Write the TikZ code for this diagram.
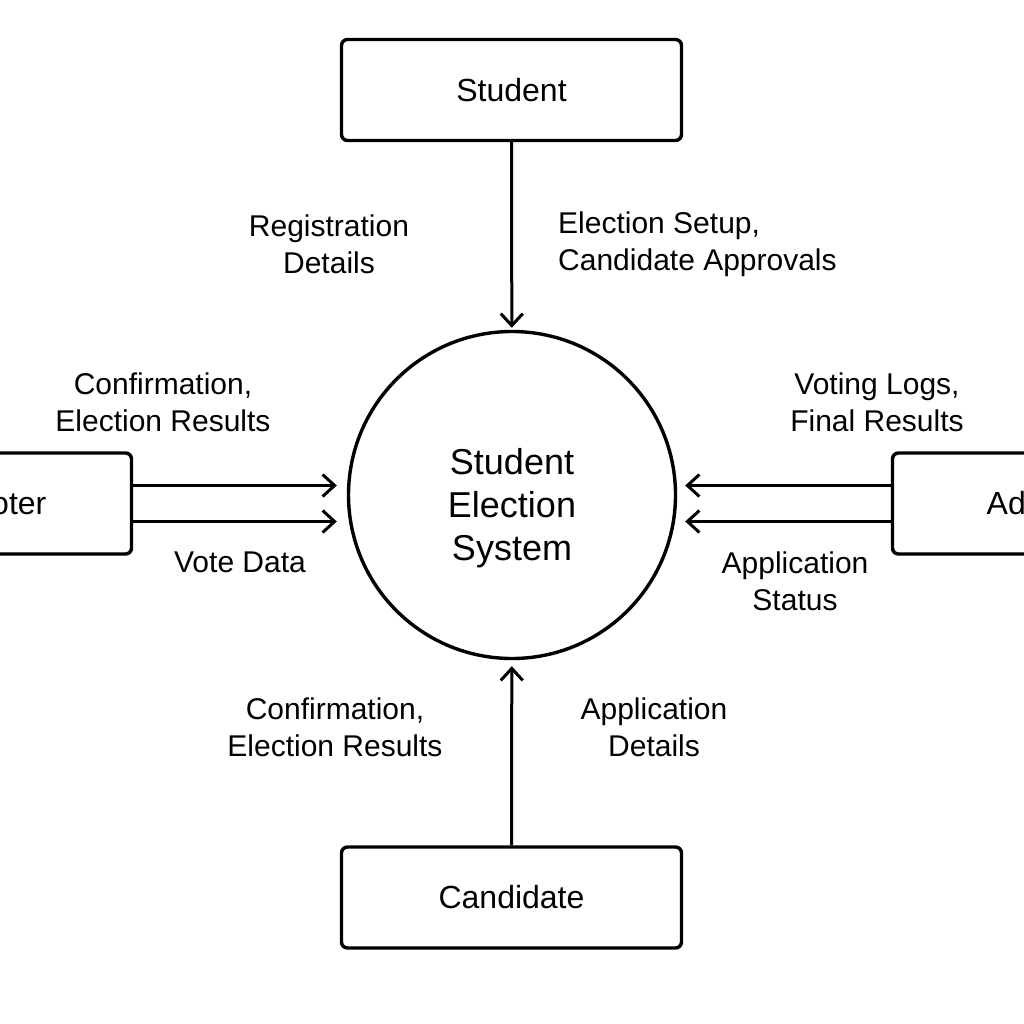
\documentclass[tikz,border=0pt]{standalone}
\usepackage{fontspec}
\setmainfont{Liberation Sans}
\usetikzlibrary{arrows.meta, positioning, calc}

\begin{document}
\begin{tikzpicture}[
  x=1pt, y=-1pt,
  entity/.style={
    rectangle,
    draw,
    rounded corners=6pt,
    line width=3.4pt,
    align=center,
    minimum width=340pt,
    minimum height=101pt,
    font=\fontsize{32}{38}\selectfont
  },
  process/.style={
    circle,
    draw,
    line width=3.4pt,
    minimum size=327pt
  },
  flow/.style={
    align=center,
    inner sep=0pt,
    font=\fontsize{30}{37}\selectfont
  },
  arrow/.style={-{Straight Barb[length=12pt, width=22pt]}, line width=3pt}
]

% Bild
\fill[white] (0,0) rectangle (1024,1024);
\useasboundingbox (0,0) rectangle (1024,1024);

% Externe Einheiten
\node[entity] (stud) at (511.5, 90) {Student};
\node[entity] (cand) at (511.5, 897.5) {Candidate};
\node[entity, minimum width=245pt] (voter) at (9, 503.5) {Voter};
\node[entity, minimum width=279pt] (admin) at (1032, 503.5) {Admin};

% Prozess (Mitte)
\node[process] (sys) at (512, 495) {};
\node[align=center, inner sep=0pt, font=\fontsize{36}{43}\selectfont]
  (systitle) at (512, 508) {Student\\Election\\System};

% Datenflüsse
\draw[arrow, shorten >=2pt] (stud) -- (sys);
\draw[arrow, shorten >=6pt] (cand) -- (sys);
\draw[arrow, shorten >=10pt] ([yshift=18pt]voter.east) -- ([yshift=18pt]voter.east -| sys.west);
\draw[arrow, shorten >=10pt] ([yshift=-18pt]voter.east) -- ([yshift=-18pt]voter.east -| sys.west);
\draw[arrow, shorten >=8pt] ([yshift=18pt]admin.west) -- ([yshift=18pt]admin.west -| sys.east);
\draw[arrow, shorten >=8pt] ([yshift=-18pt]admin.west) -- ([yshift=-18pt]admin.west -| sys.east);

% Beschriftungen
\node[flow] (regdet) at (329, 244) {Registration\\Details};
\node[flow, align=left, anchor=west] (setup) at (558, 244) {Election Setup,\\Candidate Approvals};
\node[flow] (confvoter) at (163, 402) {Confirmation,\\Election Results};
\node[flow] (votedata) at (240, 562) {Vote Data};
\node[flow] (logs) at (877, 402) {Voting Logs,\\Final Results};
\node[flow] (status) at (795, 581) {Application\\Status};
\node[flow] (confcand) at (335, 727) {Confirmation,\\Election Results};
\node[flow] (appdet) at (654, 727) {Application\\Details};

\end{tikzpicture}
\end{document}
